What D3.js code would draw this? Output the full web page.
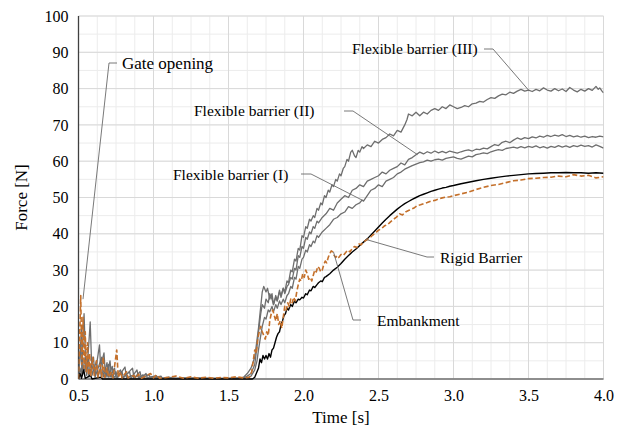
<!DOCTYPE html>
<html>
<head>
<meta charset="utf-8">
<script src="https://cdn.jsdelivr.net/npm/d3@7"></script>
<style>
  body { margin: 0; background: #fff; }
</style>
</head>
<body>
<div id="chart"></div>
<script>
// Force-time records, [time s, force N]

const flexibleIII = [
  [0.5,0],[0.51,3],[0.52,1],[0.537,18],[0.55,2],[0.565,6],[0.575,1],[0.6,4],[0.61,1],[0.64,9.4],[0.65,1],
  [0.68,3],[0.69,0.5],[0.71,5],[0.72,0.5],[0.75,2],[0.76,0.3],[0.81,3.3],[0.82,0.3],[0.86,1],[0.87,0.2],
  [0.91,2],[0.92,0.2],[0.95,1.5],[0.96,0.2],[1.0,0.6],[1.05,0.2],[1.1,0.5],[1.15,0.1],
  [1.2,0.3],[1.3,0.1],[1.4,0.2],[1.5,0.1],[1.575,0.2],[1.6,0.5],[1.625,1.5],[1.65,3],[1.675,6],[1.7,14],
  [1.715,20],[1.725,24],[1.735,25.5],[1.75,24],[1.76,25],[1.775,22],[1.79,23.5],[1.8,20.5],[1.815,23],
  [1.825,21.5],[1.84,24.5],[1.85,22.5],[1.865,25],[1.875,24],[1.89,27],[1.9,26.5],[1.915,30],[1.925,29.5],
  [1.94,33],[1.95,32.5],[1.965,36],[1.975,35.5],[1.99,39.5],[2.0,39],[2.015,42],[2.025,41.5],[2.04,44],
  [2.05,43.5],[2.065,45],[2.075,44.5],[2.09,47],[2.1,46.5],[2.115,48.5],[2.125,48],[2.14,50.5],[2.15,50],
  [2.165,52],[2.175,51.5],[2.19,53.5],[2.2,53],[2.215,55],[2.225,54.5],[2.24,56.5],[2.25,56],[2.265,58],
  [2.275,58.5],[2.29,60.5],[2.3,60],[2.315,62.5],[2.325,63],[2.34,61.5],[2.35,61],[2.365,63],[2.375,62.5],
  [2.39,64],[2.4,63.5],[2.425,64.5],[2.45,64],[2.475,65.5],[2.5,65],[2.525,66],[2.55,66.5],[2.575,67.5],
  [2.6,67],[2.625,68.5],[2.65,68],[2.675,70],[2.69,71.5],[2.7,73],[2.725,72.5],[2.75,73.5],[2.775,72.5],
  [2.8,73.5],[2.825,73],[2.85,74],[2.875,74.5],[2.9,74],[2.925,75],[2.95,74.5],[2.975,75.5],[3.0,75],
  [3.025,74.5],[3.05,74.8],[3.075,75.3],[3.1,75],[3.125,75.8],[3.15,76],[3.175,76.5],[3.2,76.3],[3.225,77],
  [3.25,77.5],[3.275,77.3],[3.3,78],[3.325,78.5],[3.35,78.3],[3.375,79],[3.4,78.7],[3.425,79.3],[3.45,79.8],
  [3.475,79.3],[3.5,79.6],[3.525,79.2],[3.55,79.8],[3.575,79.4],[3.6,80.2],[3.625,79.6],[3.65,79.3],
  [3.675,80],[3.7,79.4],[3.725,79.9],[3.75,79.2],[3.775,80.3],[3.8,79.6],[3.825,79.1],[3.85,79.8],
  [3.875,79.3],[3.9,80],[3.925,79.5],[3.95,80.6],[3.965,79.8],[3.975,80.2],[3.99,79.3],[4.0,78.8]
];

const flexibleII = [
  [0.5,0],[0.515,10],[0.525,1],[0.545,6],[0.555,1],[0.578,15.7],[0.59,1],[0.62,5],[0.63,0.5],[0.67,7.2],
  [0.68,0.5],[0.7,4],[0.71,0.5],[0.74,3],[0.75,0.3],[0.79,2],[0.8,0.3],[0.86,3],[0.87,0.3],[0.9,1],
  [0.91,0.2],[0.97,1.2],[0.98,0.2],[1.05,0.8],[1.06,0.1],
  [1.2,0.2],[1.3,0.3],[1.4,0.1],[1.5,0.2],[1.6,0.3],[1.625,0.8],[1.65,1.5],[1.675,4],[1.69,9],[1.7,13],
  [1.715,18],[1.725,20.5],[1.74,19.5],[1.75,22],[1.765,21],[1.775,23.5],[1.79,22],[1.8,20.5],[1.815,22.5],
  [1.825,21.5],[1.84,24],[1.85,23],[1.865,25],[1.875,23.5],[1.89,25.5],[1.9,26],[1.915,28],[1.925,27.5],
  [1.94,30.5],[1.95,30],[1.965,34],[1.975,33.5],[1.99,36.5],[2.0,36],[2.015,39],[2.025,38.5],[2.04,40.5],
  [2.05,40],[2.065,42],[2.075,41.5],[2.09,43.5],[2.1,43],[2.125,44.5],[2.15,45.5],[2.175,47],[2.2,46.5],
  [2.225,48.5],[2.25,49.5],[2.275,50.5],[2.3,50],[2.325,52],[2.35,52.5],[2.375,53.5],[2.4,53],[2.425,54.5],
  [2.45,55],[2.475,55.5],[2.5,56],[2.525,57],[2.55,56.5],[2.575,57.5],[2.6,58],[2.625,58.5],[2.65,59.5],
  [2.675,59],[2.7,60.5],[2.725,61],[2.75,61.8],[2.775,62.5],[2.8,62],[2.825,62.6],[2.85,62.2],[2.875,62.8],
  [2.9,62.3],[2.925,62.7],[2.95,62.3],[2.975,62.8],[3.0,62.5],[3.025,62.2],[3.05,62.6],[3.075,62.9],
  [3.1,63.1],[3.125,62.8],[3.15,63.3],[3.175,63.2],[3.2,63.6],[3.225,63.4],[3.25,64],[3.275,64.6],
  [3.3,64.3],[3.325,65.2],[3.35,65.5],[3.375,65.1],[3.4,65.8],[3.425,66.4],[3.45,66],[3.475,66.5],
  [3.5,66.2],[3.525,66.7],[3.55,66.4],[3.575,66.9],[3.6,66.6],[3.625,67.1],[3.65,66.8],[3.675,67.2],
  [3.7,66.9],[3.725,67.3],[3.75,66.8],[3.775,67.1],[3.8,66.7],[3.825,67],[3.85,66.6],[3.875,66.9],
  [3.9,66.5],[3.925,66.8],[3.95,66.6],[3.975,66.9],[4.0,66.7]
];

const flexibleI = [
  [0.5,0],[0.51,6],[0.52,14],[0.53,2],[0.56,4],[0.57,0.5],[0.6,6],[0.61,0.5],[0.655,6],[0.665,0.5],
  [0.69,4.5],[0.7,0.5],[0.725,3.5],[0.735,0.3],[0.78,2.5],[0.79,0.3],[0.84,2],[0.85,0.2],[0.89,2.5],
  [0.9,0.2],[0.93,1.2],[0.94,0.2],[1.02,0.9],[1.03,0.1],[1.08,0.3],
  [1.2,0.1],[1.3,0.2],[1.4,0.1],[1.5,0.1],[1.6,0.2],[1.625,0.3],[1.65,0.8],[1.675,2.5],[1.69,5],[1.7,8],
  [1.715,12],[1.725,14.5],[1.74,17],[1.75,16.5],[1.765,19],[1.775,18.5],[1.79,20],[1.8,18.5],[1.815,20.5],
  [1.825,19.5],[1.84,21.5],[1.85,20.5],[1.865,22],[1.875,21],[1.89,23],[1.9,23.5],[1.915,25.5],[1.925,25],
  [1.94,28],[1.95,27.5],[1.965,31],[1.975,30.5],[1.99,33],[2.0,33.5],[2.015,35.5],[2.025,35],[2.04,37],
  [2.05,36.5],[2.065,38],[2.075,37.5],[2.09,39.5],[2.1,39],[2.125,40.5],[2.15,41.5],[2.175,42.5],[2.2,44],
  [2.225,44.5],[2.25,45.5],[2.275,46],[2.3,47.5],[2.325,47],[2.35,48],[2.375,48.5],[2.39,49.3],[2.4,49],
  [2.425,50.5],[2.45,52],[2.475,52.5],[2.5,53.5],[2.525,53],[2.55,54.5],[2.575,55],[2.6,55.5],[2.625,56.5],
  [2.65,57],[2.675,57.8],[2.7,58.3],[2.725,58.8],[2.75,59.2],[2.775,59.6],[2.8,59.8],[2.825,60.3],[2.85,60],
  [2.875,60.4],[2.9,60.6],[2.925,60.3],[2.95,60.8],[2.975,61],[3.0,61.2],[3.025,60.8],[3.05,60.6],
  [3.075,61],[3.1,61.4],[3.125,61.2],[3.15,61.8],[3.175,62],[3.2,62.3],[3.225,62.1],[3.25,62.6],
  [3.275,62.9],[3.3,63.2],[3.325,63],[3.35,63.5],[3.375,63.7],[3.4,63.9],[3.425,63.6],[3.45,64],
  [3.475,63.7],[3.5,64.1],[3.525,63.8],[3.55,64.2],[3.575,63.7],[3.6,64],[3.625,63.6],[3.65,64.1],
  [3.675,63.8],[3.7,64.3],[3.725,63.9],[3.75,64.2],[3.775,63.8],[3.8,64.3],[3.825,64],[3.85,64.4],
  [3.875,64.1],[3.9,64.3],[3.925,63.9],[3.95,64.5],[3.975,64.1],[4.0,63.6]
];

const rigidBarrier = [
  [0.5,0],[0.51,1.5],[0.52,0.2],[0.535,2.5],[0.545,0.2],[0.58,1],[0.59,0],[0.65,0.5],[0.66,0],
  [1.0,0],[1.5,0],[1.66,0],[1.675,0.5],[1.69,2],[1.7,3],[1.71,5.5],[1.72,4.5],[1.73,6.5],[1.74,5.5],
  [1.75,6.5],[1.76,5.5],[1.77,7],[1.78,6],[1.79,8],[1.8,8.5],[1.81,10],[1.82,11.5],[1.83,12.5],[1.84,13],
  [1.85,15],[1.86,16],[1.87,17.5],[1.88,18],[1.89,19.5],[1.9,19],[1.915,20.5],[1.925,20],[1.94,21.5],
  [1.95,21],[1.965,22],[1.975,21.8],[1.99,22.5],[2.0,22.3],[2.015,23.5],[2.025,23.2],[2.04,24.5],
  [2.05,24.3],[2.065,25.5],[2.075,25.2],[2.09,26],[2.1,26.5],[2.115,27],[2.125,26.8],[2.14,28],
  [2.15,28.2],[2.175,29],[2.2,30],[2.225,30.8],[2.25,31.8],[2.275,33],[2.3,34],[2.325,35],[2.35,35.8],
  [2.375,36.8],[2.4,37.7],[2.425,38.6],[2.45,39.7],[2.475,40.8],[2.5,41.9],[2.525,43],[2.55,44],
  [2.575,45],[2.6,45.9],[2.625,46.8],[2.65,47.6],[2.675,48.3],[2.7,48.9],[2.725,49.5],[2.75,50],
  [2.775,50.5],[2.8,50.9],[2.825,51.3],[2.85,51.7],[2.875,52],[2.9,52.3],[2.925,52.6],[2.95,52.8],
  [2.975,53.1],[3.0,53.3],[3.05,53.8],[3.1,54.2],[3.15,54.6],[3.2,55],[3.25,55.3],[3.3,55.6],[3.35,55.9],
  [3.4,56.1],[3.45,56.3],[3.5,56.5],[3.55,56.6],[3.6,56.7],[3.65,56.8],[3.7,56.8],[3.75,56.9],[3.8,56.8],
  [3.85,56.8],[3.9,56.7],[3.95,56.8],[4.0,56.7]
];

const embankment = [
  [0.5,0],[0.508,12],[0.515,23],[0.522,4],[0.53,17],[0.537,3],[0.545,13],[0.552,2],[0.56,10],[0.567,1],
  [0.575,7],[0.582,1],[0.595,6],[0.605,1],[0.62,5],[0.63,0.5],[0.645,4],[0.655,0.5],[0.665,6],[0.675,0.5],
  [0.69,3],[0.7,0.5],[0.72,2],[0.73,0.3],[0.755,8],[0.765,0.5],[0.78,2],[0.79,0.3],[0.82,2],[0.83,0.3],
  [0.87,1],[0.88,0.2],[0.9,1.3],[0.92,0.2],[0.98,1.5],[1.0,0.3],[1.02,1.2],[1.04,0.2],[1.1,0.5],
  [1.15,0.8],[1.2,0.2],[1.25,0.6],[1.3,0.2],[1.35,0.5],[1.4,0.2],[1.45,0.4],[1.5,0.3],[1.55,0.6],
  [1.6,0.3],[1.64,0.5],[1.655,2],[1.665,5],[1.675,8],[1.685,7],[1.695,11],[1.705,13],[1.715,14.5],
  [1.725,13],[1.735,12],[1.745,11],[1.755,13],[1.765,12],[1.775,16],[1.785,18],[1.795,19],[1.805,17.5],
  [1.815,16],[1.825,18],[1.835,15],[1.845,16],[1.855,14],[1.865,17],[1.875,20],[1.885,19],[1.895,21],
  [1.905,20],[1.915,22],[1.925,21],[1.935,22.5],[1.945,21.5],[1.955,24],[1.965,26],[1.975,27.5],
  [1.985,27],[1.995,29],[2.005,28],[2.015,30],[2.025,29],[2.035,27.5],[2.045,28],[2.055,27],[2.065,28.5],
  [2.075,30],[2.085,29.5],[2.095,31],[2.105,30.5],[2.115,29.5],[2.125,30],[2.135,31.5],[2.145,32.5],
  [2.155,32],[2.165,33.5],[2.175,34.5],[2.185,35.3],[2.195,35],[2.205,34],[2.215,33.5],[2.225,34],
  [2.235,33.5],[2.25,34.3],[2.265,34],[2.28,34.8],[2.295,35.5],[2.31,35],[2.325,36],[2.34,36.5],
  [2.355,36.2],[2.37,37.2],[2.385,37],[2.4,37.8],[2.42,38.3],[2.44,38.8],[2.46,39.6],[2.48,40.2],[2.5,41],
  [2.52,41.4],[2.54,42.2],[2.56,42.5],[2.58,43.3],[2.6,44],[2.62,44.6],[2.64,45.5],[2.66,45.2],[2.68,46],
  [2.7,46.4],[2.72,46.8],[2.74,47.2],[2.76,47.8],[2.78,48],[2.8,48.3],[2.825,48.6],[2.85,49],[2.875,49.2],
  [2.9,49.6],[2.925,49.9],[2.95,50.1],[2.975,50.2],[3.0,50.5],[3.05,51],[3.1,51.5],[3.15,52.2],[3.2,52.8],
  [3.25,53.3],[3.3,53.6],[3.35,54.1],[3.4,54.6],[3.45,54.8],[3.5,55.2],[3.55,55.3],[3.6,55.5],[3.65,55.6],
  [3.7,55.9],[3.75,55.7],[3.8,56.3],[3.85,55.9],[3.9,56.1],[3.95,55.4],[4.0,55.7]
];

const xTicks = [0.5, 1.0, 1.5, 2.0, 2.5, 3.0, 3.5, 4.0];
const yTicks = [0, 10, 20, 30, 40, 50, 60, 70, 80, 90, 100];

// Callout labels: text, anchor point on the curve [t, F], leader bend in pixels
const callouts = [
  { text: "Gate opening", tx: 122, ty: 69, size: 17, path: [[117, 63], [109, 63]], end: [0.53, 22] },
  { text: "Flexible barrier (III)", tx: 352, ty: 54, size: 15.5, path: [[484, 49], [493, 49]], end: [3.5, 79.6] },
  { text: "Flexible barrier (II)", tx: 194, ty: 116, size: 15.5, path: [[344, 111], [353, 111]], end: [2.76, 61.8] },
  { text: "Flexible barrier (I)", tx: 173, ty: 180, size: 15.5, path: [[301, 174], [311, 174]], end: [2.39, 49.3] },
  { text: "Rigid Barrier", tx: 440, ty: 263, size: 15.5, path: [[434, 257], [427, 257]], end: [2.42, 38.4] },
  { text: "Embankment", tx: 377, ty: 326, size: 15.5, path: [[361, 320], [353, 320]], end: [2.2, 35] }
];

const width = 625;
const height = 431;
const margin = { top: 16, right: 21.5, bottom: 52, left: 78.5 };
const serif = "'Liberation Serif'";

const svg = d3.select("#chart")
  .append("svg")
  .attr("width", width)
  .attr("height", height);

const x = d3.scaleLinear()
  .domain([0.5, 4.0])
  .range([margin.left, width - margin.right]);

const y = d3.scaleLinear()
  .domain([0, 100])
  .range([height - margin.bottom, margin.top]);

// Grid: minor then major
const grid = svg.append("g").attr("class", "grid");

grid.selectAll(".vminor")
  .data(d3.range(0.5, 4.0001, 0.125))
  .join("line")
  .attr("x1", d => x(d)).attr("x2", d => x(d))
  .attr("y1", y(0)).attr("y2", y(100))
  .attr("stroke", "#ececec")
  .attr("stroke-width", 1);

grid.selectAll(".hminor")
  .data(d3.range(0, 100.001, 5))
  .join("line")
  .attr("x1", x(0.5)).attr("x2", x(4))
  .attr("y1", d => y(d)).attr("y2", d => y(d))
  .attr("stroke", "#ececec")
  .attr("stroke-width", 1);

grid.selectAll(".vmajor")
  .data(xTicks)
  .join("line")
  .attr("x1", d => x(d)).attr("x2", d => x(d))
  .attr("y1", y(0)).attr("y2", y(100))
  .attr("stroke", "#d9d9d9")
  .attr("stroke-width", 1);

grid.selectAll(".hmajor")
  .data(yTicks)
  .join("line")
  .attr("x1", x(0.5)).attr("x2", x(4))
  .attr("y1", d => y(d)).attr("y2", d => y(d))
  .attr("stroke", "#d9d9d9")
  .attr("stroke-width", 1);

// Axes
const xAxis = svg.append("g")
  .attr("transform", `translate(0,${y(0)})`)
  .call(d3.axisBottom(x).tickValues(xTicks).tickFormat(d3.format(".1f")).tickSize(0).tickPadding(11));

const yAxis = svg.append("g")
  .attr("transform", `translate(${x(0.5)},0)`)
  .call(d3.axisLeft(y).tickValues(yTicks).tickSize(0).tickPadding(10));

[xAxis, yAxis].forEach(ax => {
  ax.select(".domain").remove();
  ax.selectAll("text")
    .style("font-size", "16px")
    .attr("fill", "#000");
});

svg.append("line")
  .attr("x1", x(0.5)).attr("x2", x(4))
  .attr("y1", y(0)).attr("y2", y(0))
  .attr("stroke", "#707070")
  .attr("stroke-width", 1.6);

svg.append("line")
  .attr("x1", x(0.5)).attr("x2", x(0.5))
  .attr("y1", y(0)).attr("y2", y(100))
  .attr("stroke", "#404040")
  .attr("stroke-width", 1.3);

svg.append("text")
  .attr("x", (x(0.5) + x(4)) / 2)
  .attr("y", 423)
  .attr("text-anchor", "middle")
  .style("font-size", "17px")
  .text("Time [s]");

svg.append("text")
  .attr("transform", `translate(27,${(y(0) + y(100)) / 2}) rotate(-90)`)
  .attr("text-anchor", "middle")
  .style("font-size", "17px")
  .text("Force [N]");

// Series
svg.append("defs").append("clipPath")
  .attr("id", "plot-clip")
  .append("rect")
  .attr("x", x(0.5)).attr("y", y(100))
  .attr("width", x(4) - x(0.5))
  .attr("height", y(0) - y(100) + 1);

const line = d3.line()
  .x(d => x(d[0]))
  .y(d => y(d[1]));

const series = [
  { data: flexibleI, color: "#6e6e6e", width: 1.3, dash: null },
  { data: flexibleII, color: "#6e6e6e", width: 1.3, dash: null },
  { data: flexibleIII, color: "#6e6e6e", width: 1.3, dash: null },
  { data: rigidBarrier, color: "#000000", width: 1.4, dash: null },
  { data: embankment, color: "#c4702b", width: 1.6, dash: "5,2.5" }
];

svg.append("g")
  .attr("clip-path", "url(#plot-clip)")
  .selectAll("path")
  .data(series)
  .join("path")
  .attr("fill", "none")
  .attr("stroke", d => d.color)
  .attr("stroke-width", d => d.width)
  .attr("stroke-dasharray", d => d.dash)
  .attr("stroke-linejoin", "round")
  .attr("d", d => line(d.data));

// Callouts with leader lines
const notes = svg.append("g").attr("class", "callouts");

notes.selectAll("polyline")
  .data(callouts)
  .join("polyline")
  .attr("fill", "none")
  .attr("stroke", "#6a6a6a")
  .attr("stroke-width", 0.9)
  .attr("points", d => d.path.concat([[x(d.end[0]), y(d.end[1])]]).map(p => p.join(",")).join(" "));

notes.selectAll("text")
  .data(callouts)
  .join("text")
  .attr("x", d => d.tx)
  .attr("y", d => d.ty)
  .style("font-size", d => d.size + "px")
  .attr("fill", "#000")
  .text(d => d.text);

// Every label in the serif face
svg.selectAll("text").style("font-family", serif);
</script>
</body>
</html>
